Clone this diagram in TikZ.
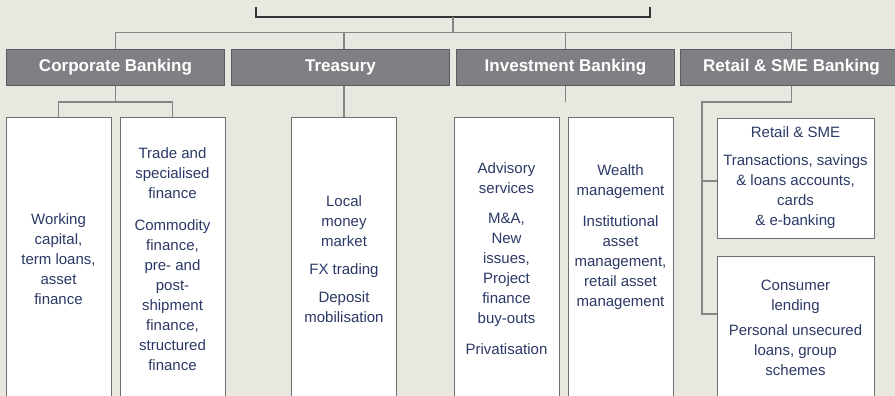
\documentclass[tikz,border=0pt]{standalone}
\usepackage{xcolor}
\usepackage{fontspec}
\setmainfont{Liberation Sans}
\usetikzlibrary{positioning}

\definecolor{bggrey}{HTML}{E8E7E0}
\definecolor{headgrey}{HTML}{7F8084}
\definecolor{headedge}{HTML}{5B5C60}
\definecolor{linkgrey}{HTML}{858585}
\definecolor{boxedge}{HTML}{6E6E6E}
\definecolor{navy}{HTML}{2B3966}

\tikzset{
  head/.style={draw=headedge, fill=headgrey, line width=1pt, minimum width=218pt,
    minimum height=36pt, inner sep=0pt, text=white,
    font=\fontsize{17}{20}\selectfont\bfseries},
  unit/.style={draw=boxedge, fill=white, line width=1pt, minimum width=105pt,
    minimum height=300pt, inner sep=0pt, anchor=north},
  desc/.style={text=navy, align=center, inner sep=0pt,
    font=\fontsize{15}{20}\selectfont},
  link/.style={draw=linkgrey, line width=1.2pt},
  bracket/.style={draw=black!80, line width=2pt}
}

\begin{document}
\begin{tikzpicture}[x=1pt, y=-1pt]
    \fill[bggrey] (0,0) rectangle (895,396);
    \useasboundingbox (0,0) rectangle (895,396);

    \node[head, anchor=north west] (corp) at (6,49) {Corporate Banking};
    \node[head, right=6pt of corp] (trs) {Treasury};
    \node[head, right=6pt of trs] (inv) {Investment Banking};
    \node[head, right=5pt of inv, minimum width=222pt] (ret) {Retail \& SME Banking};

    \node[unit] (wc) at (58.5,117) {};
    \node[unit, right=8pt of wc] (tsf) {};
    \node[unit] (mm) at (344,117) {};
    \node[unit] (adv) at (506.5,117) {};
    \node[unit, right=8pt of adv] (wm) {};
    \node[unit, minimum width=157pt, minimum height=120pt] (sme) at (795.5,118) {};
    \node[unit, minimum width=157pt, minimum height=160pt, below=17pt of sme] (cl) {};

    \node[desc] (wc-txt) at ([yshift=-142pt]wc.north)
      {Working\\capital,\\term loans,\\asset\\finance};
    \node[desc] (tsf-txt) at ([yshift=-142pt]tsf.north)
      {Trade and\\specialised\\finance\\[12pt]Commodity\\finance,\\pre- and\\post-\\shipment\\finance,\\structured\\finance};
    \node[desc] (mm-txt) at ([yshift=-142pt]mm.north)
      {Local\\money\\market\\[8pt]FX trading\\[8pt]Deposit\\mobilisation};
    \node[desc] (adv-txt) at ([yshift=-142pt]adv.north)
      {Advisory\\services\\[10pt]M\&A,\\New\\issues,\\Project\\finance\\buy-outs\\[11pt]Privatisation};
    \node[desc] (wm-txt) at ([yshift=-120pt]wm.north)
      {Wealth\\management\\[11pt]Institutional\\asset\\management,\\retail asset\\management};
    \node[desc] (sme-txt) at ([yshift=-60pt]sme.north)
      {Retail \& SME\\[8pt]Transactions, savings\\\& loans accounts,\\cards\\\& e-banking};
    \node[desc] (cl-txt) at ([yshift=-72pt]cl.north)
      {Consumer\\lending\\[5pt]Personal unsecured\\loans, group\\schemes};

    \coordinate (brl) at (256,7);
    \coordinate (brr) at (650,7);
    \coordinate (brs) at (453,17);
    \coordinate (bus) at (453,32.5);
    \coordinate (smej) at (702,181);
    \coordinate (clj) at (702,314);

    \draw[bracket] (brl) |- (brs) -| (brr);
    \draw[link] (brs) -- (bus);
    \draw[link] (corp.north) |- (bus) -| (ret.north);
    \draw[link] (mm.north |- trs.north) -- (mm.north |- bus);
    \draw[link] (inv.north) -- (inv.north |- bus);

    \draw[link] (corp.south) -- ++(0,16) coordinate (cj);
    \draw[link] (wc.north) |- (cj) -| (tsf.north);
    \draw[link] (mm.north |- trs.south) -- (mm.north);
    \draw[link] (inv.south) -- ++(0,16);
    \draw[link] (ret.south) -- ++(0,16) -| (clj) -- (clj -| cl.west);
    \draw[link] (smej) -- (smej -| sme.west);
\end{tikzpicture}
\end{document}
